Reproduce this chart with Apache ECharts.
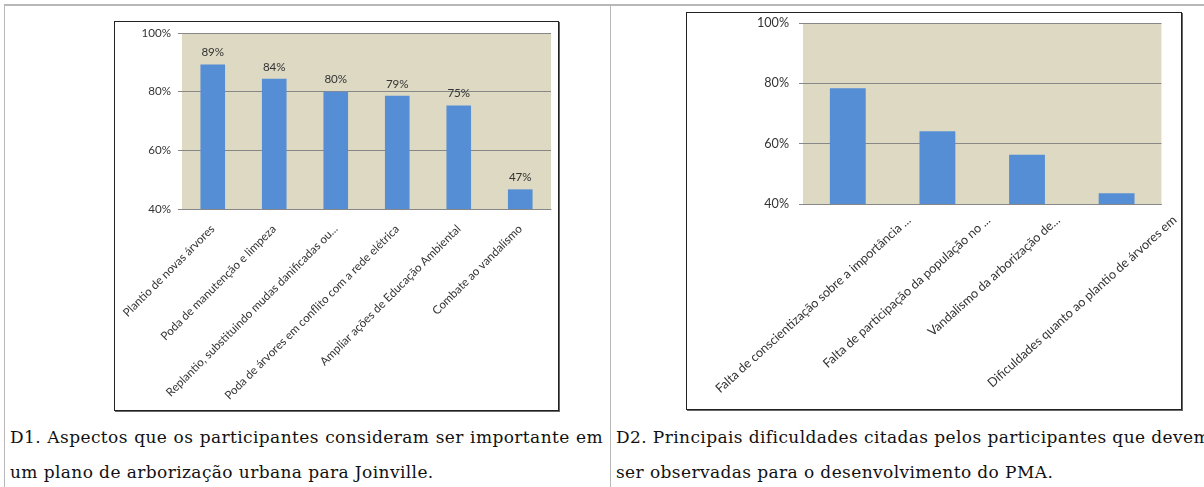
<!DOCTYPE html>
<html>
<head>
<meta charset="utf-8">
<script src="https://cdn.jsdelivr.net/npm/echarts@6/dist/echarts.min.js"></script>
<style>
  html, body { margin: 0; padding: 0; background: #fff; }
  body { width: 1204px; height: 487px; position: relative; overflow: hidden; }
  .rule { position: absolute; background: #b8b8b8; }
  .box { position: absolute; box-sizing: border-box; border: 1px solid #222; box-shadow: 1px 1px 0 #666; background: #fff; }
  .cap { position: absolute; font-family: 'DejaVu Serif', serif; font-size: 17px; letter-spacing: 0.4px; line-height: 35px; color: #111; white-space: nowrap; }
  .cap .j { width: 593px; text-align: justify; text-align-last: justify; }
</style>
</head>
<body>
  <!-- table rules -->
  <div class="rule" style="left:4px; top:4px; width:1200px; height:2px;"></div>
  <div class="rule" style="left:4px; top:4px; width:1px; height:483px;"></div>
  <div class="rule" style="left:610px; top:4px; width:1px; height:483px;"></div>

  <div id="d1" class="box" style="left:114px; top:21px; width:445px; height:390px;"></div>
  <div id="d2" class="box" style="left:686px; top:12px; width:496px; height:398px;"></div>

  <div class="cap" style="left:10px; top:420px;">
    <div class="j">D1. Aspectos que os participantes consideram ser importante em</div>
    <div>um plano de arborização urbana para Joinville.</div>
  </div>
  <div class="cap" style="left:616px; top:420px;">
    <div class="j">D2. Principais dificuldades citadas pelos participantes que devem</div>
    <div>ser observadas para o desenvolvimento do PMA.</div>
  </div>

<script>
// D1 - aspectos importantes (%)
var d1Categories = [
  'Plantio de novas árvores',
  'Poda de manutenção e limpeza',
  'Replantio, substituindo mudas danificadas ou...',
  'Poda de árvores em conflito com a rede elétrica',
  'Ampliar ações de Educação Ambiental',
  'Combate ao vandalismo'
];
var d1Values = [89.3, 84.4, 80.0, 78.6, 75.3, 46.7];

// D2 - principais dificuldades (%)
var d2Categories = [
  'Falta de conscientização sobre a importância ...',
  'Falta de participação da população no ...',
  'Vandalismo da arborização de...',
  'Dificuldades quanto ao plantio de árvores em'
];
var d2Values = [78.4, 64.1, 56.3, 43.6];

// eixo y
var yMin = 40, yMax = 100, yStep = 20;

var FONT = 'Lato, "Open Sans", sans-serif';
var PLOT_BG = '#ddd9c3';
var BAR = '#558ed5';
var GRID_LINE = '#878787';
var TXT = '#333';

function baseOption(grid, xData, values, rotate, fontSize, showValues) {
  return {
    animation: false,
    textStyle: { fontFamily: FONT },
    grid: Object.assign({ show: true, backgroundColor: PLOT_BG, borderWidth: 0 }, grid),
    xAxis: {
      type: 'category',
      data: xData,
      axisLine: { lineStyle: { color: GRID_LINE, width: 1 } },
      axisTick: { alignWithLabel: true, length: 4, lineStyle: { color: GRID_LINE } },
      axisLabel: {
        interval: 0, rotate: rotate, margin: showValues ? 18 : 14,
        fontFamily: FONT, fontSize: fontSize, color: TXT
      }
    },
    yAxis: {
      type: 'value',
      min: yMin, max: yMax, interval: yStep,
      axisLine: { show: false },
      axisTick: { show: true, length: 4, lineStyle: { color: GRID_LINE } },
      splitLine: { lineStyle: { color: GRID_LINE, width: 1 } },
      axisLabel: {
        margin: showValues ? 11 : 14, fontFamily: FONT, fontSize: fontSize, color: TXT,
        formatter: function (v) { return v + '%'; }
      }
    },
    series: [{
      type: 'bar',
      data: values,
      barWidth: '40%',
      itemStyle: { color: BAR },
      label: {
        show: showValues, position: 'top', distance: 6,
        fontFamily: FONT, fontSize: fontSize, color: TXT,
        formatter: function (p) { return Math.round(p.value) + '%'; }
      }
    }]
  };
}

var chart1 = echarts.init(document.getElementById('d1'));
chart1.setOption(baseOption({ left: 67, right: 7, top: 11, bottom: 201 }, d1Categories, d1Values, 45, 11.6, true));

// os rótulos do D2 ficam deslocados para a direita no original (estilo do Excel)
var d2Rotate = 42;
var d2Font = 12.6;
var d2Shift = [61, 51, 31, 58];
var rad = d2Rotate * Math.PI / 180;
var d2Data = d2Categories.map(function (c, i) {
  var along = d2Shift[i] * Math.cos(rad);
  var down = d2Shift[i] * Math.sin(rad);
  return {
    value: c,
    textStyle: { verticalAlign: 'top', padding: [down - d2Font / 2, -along, 0, 0] }
  };
});

var chart2 = echarts.init(document.getElementById('d2'));
chart2.setOption(baseOption({ left: 116, right: 17, top: 10, bottom: 205 }, d2Data, d2Values, d2Rotate, d2Font, false));
</script>
</body>
</html>
